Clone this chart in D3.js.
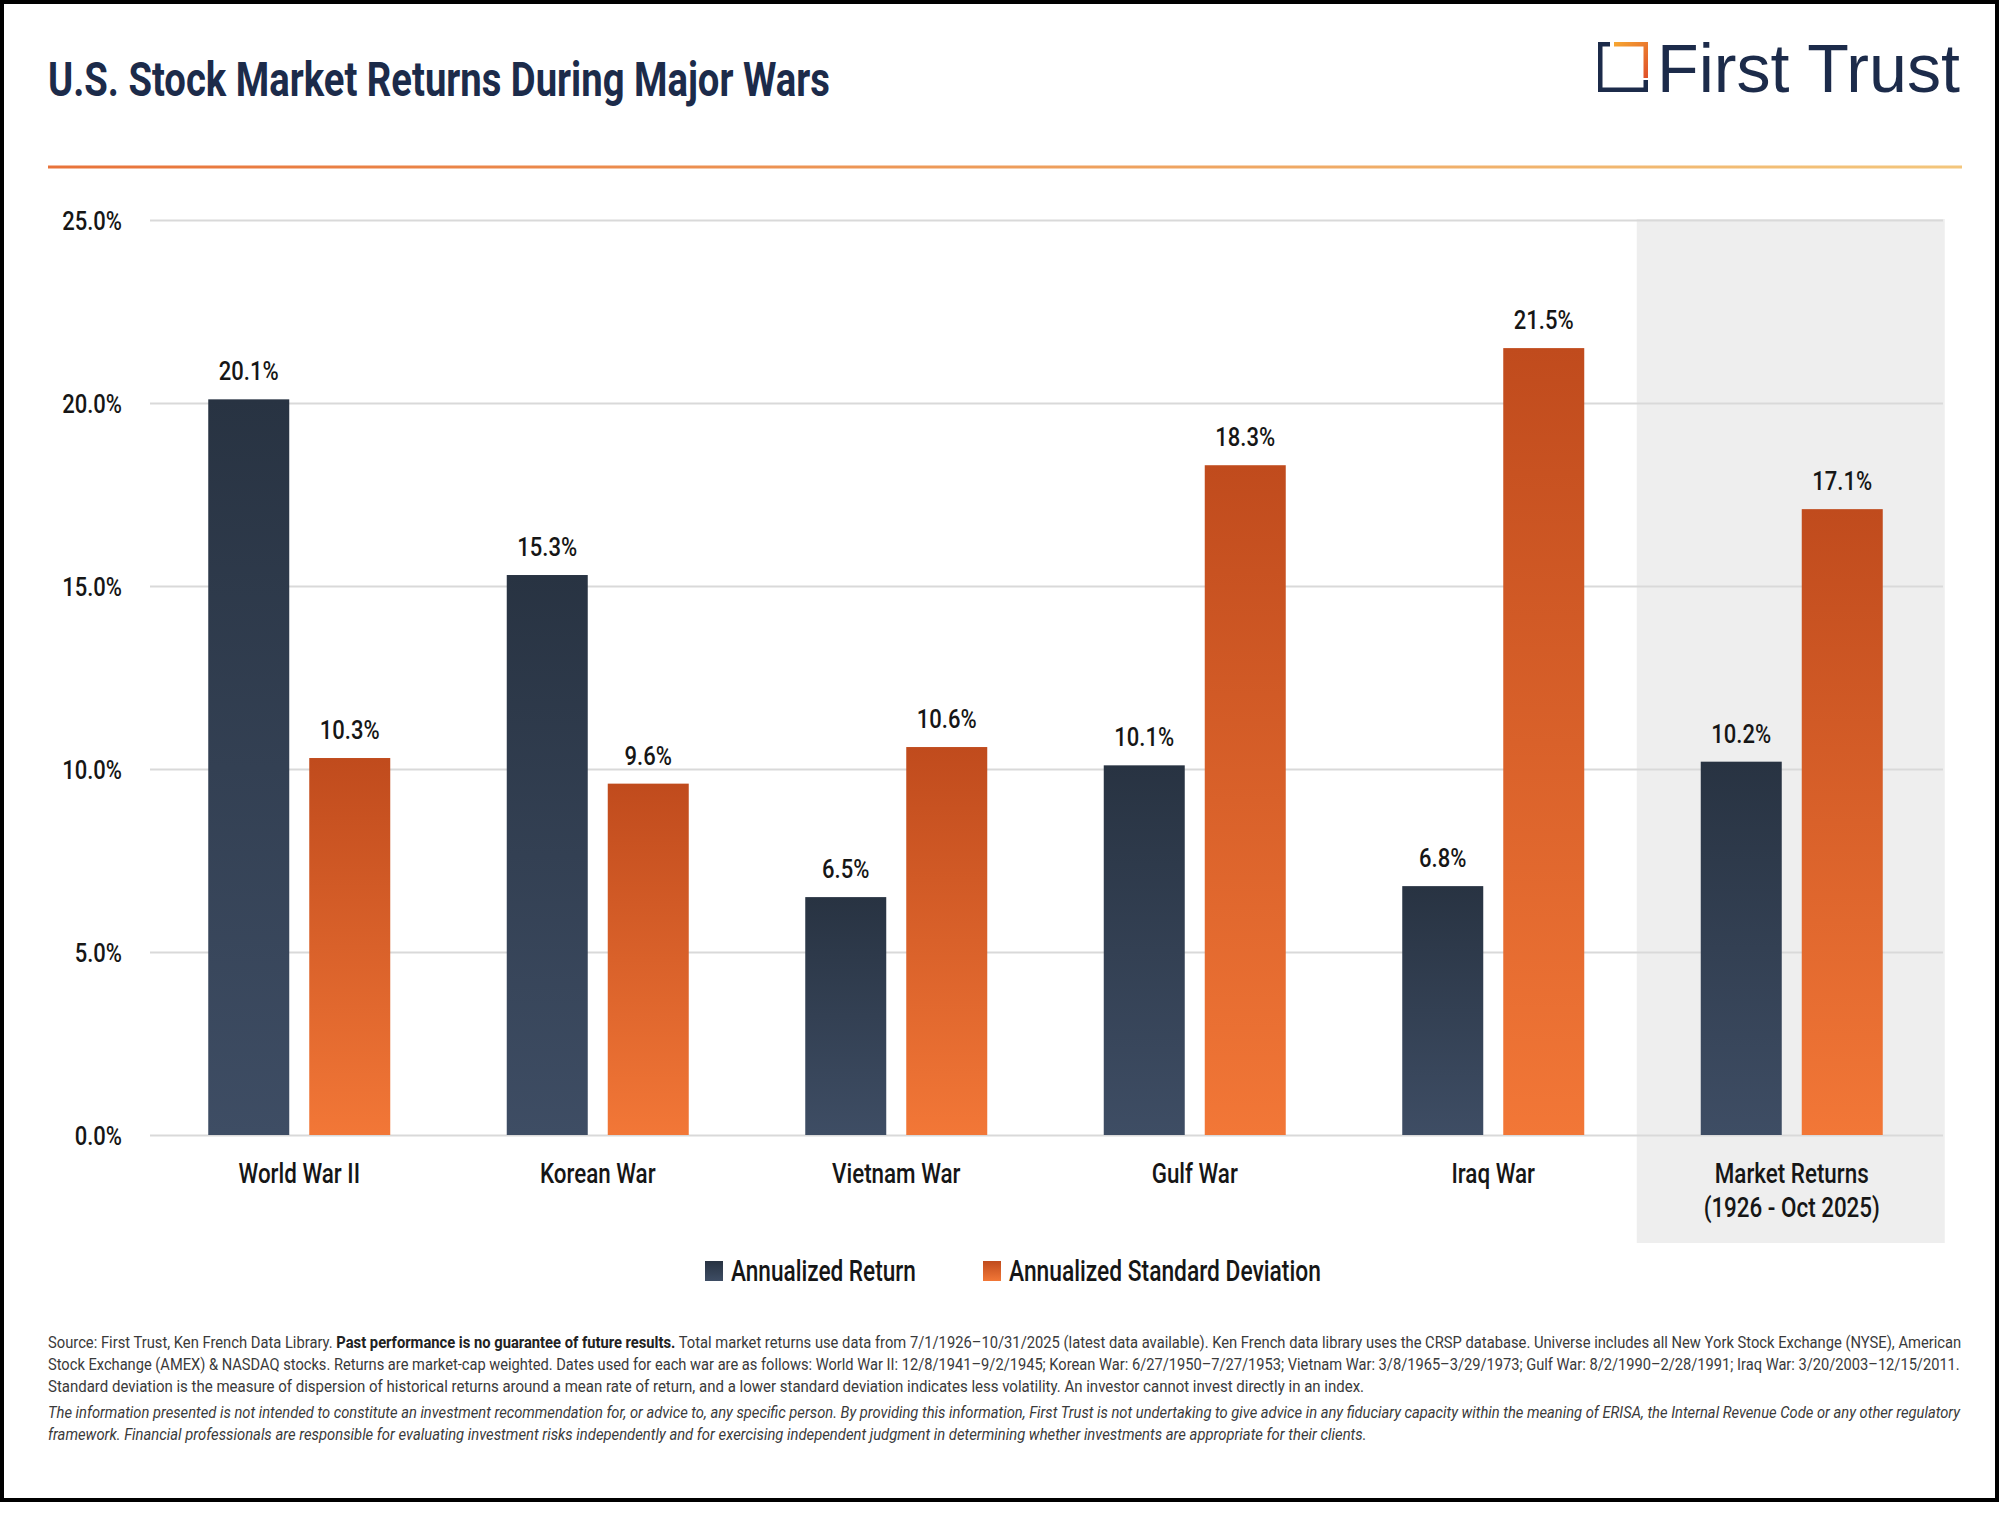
<!DOCTYPE html>
<html>
<head>
<meta charset="utf-8">
<script src="https://cdn.jsdelivr.net/npm/d3@7"></script>
<style>
  html, body { margin: 0; padding: 0; background: #ffffff; }
  svg { display: block; }
</style>
</head>
<body>
<div id="chart"></div>
<script>
// ---------------- DATA ----------------
const categories = ["World War II", "Korean War", "Vietnam War", "Gulf War", "Iraq War", "Market Returns|(1926 - Oct 2025)"];
const seriesNames = ["Annualized Return", "Annualized Standard Deviation"];
const annualizedReturn = [20.1, 15.3, 6.5, 10.1, 6.8, 10.2];
const annualizedStdDev = [10.3, 9.6, 10.6, 18.3, 21.5, 17.1];
const yTicks = [0, 5, 10, 15, 20, 25];
const titleText = "U.S. Stock Market Returns During Major Wars";
const logoText = "First Trust";
const footnoteLines = [
  [["Source: First Trust, Ken French Data Library. ", "normal"], ["Past performance is no guarantee of future results.", "bold"], [" Total market returns use data from 7/1/1926\u201310/31/2025 (latest data available). Ken French data library uses the CRSP database. Universe includes all New York Stock Exchange (NYSE), American", "normal"]],
  [["Stock Exchange (AMEX) & NASDAQ stocks. Returns are market-cap weighted. Dates used for each war are as follows: World War II: 12/8/1941\u20139/2/1945; Korean War: 6/27/1950\u20137/27/1953; Vietnam War: 3/8/1965\u20133/29/1973; Gulf War: 8/2/1990\u20132/28/1991; Iraq War: 3/20/2003\u201312/15/2011.", "normal"]],
  [["Standard deviation is the measure of dispersion of historical returns around a mean rate of return, and a lower standard deviation indicates less volatility. An investor cannot invest directly in an index.", "normal"]],
  [["The information presented is not intended to constitute an investment recommendation for, or advice to, any specific person. By providing this information, First Trust is not undertaking to give advice in any fiduciary capacity within the meaning of ERISA, the Internal Revenue Code or any other regulatory", "italic"]],
  [["framework. Financial professionals are responsible for evaluating investment risks independently and for exercising independent judgment in determining whether investments are appropriate for their clients.", "italic"]]
];

// ---------------- LAYOUT ----------------
const W = 2000, H = 1532;
const FONT = "Roboto, 'Noto Sans', sans-serif";
const NAVY = "#1c2b4a";
const INK = "#161616";
const plot = { left: 150, right: 1943, top: 220, bottom: 1135 };

const svg = d3.select("#chart").append("svg")
  .attr("width", W).attr("height", H)
  .attr("viewBox", `0 0 ${W} ${H}`)
  .style("font-family", FONT);

svg.append("rect").attr("x", 0).attr("y", 0).attr("width", W).attr("height", H).attr("fill", "#fff");

// horizontal condensing helpers (the reference uses a condensed face)
function condense(node, x, y, f) {
  d3.select(node).attr("x", 0).attr("y", 0)
    .attr("transform", `translate(${x},${y}) scale(${f},1)`);
}
function fitWidth(node, x, y, w) {
  const nat = node.getComputedTextLength();
  condense(node, x, y, w / nat);
}

const defs = svg.append("defs");
const gDark = defs.append("linearGradient").attr("id", "gradDark").attr("x1", 0).attr("y1", 0).attr("x2", 0).attr("y2", 1);
gDark.append("stop").attr("offset", "0%").attr("stop-color", "#283342");
gDark.append("stop").attr("offset", "100%").attr("stop-color", "#3e4d64");
const gOr = defs.append("linearGradient").attr("id", "gradOrange").attr("x1", 0).attr("y1", 0).attr("x2", 0).attr("y2", 1);
gOr.append("stop").attr("offset", "0%").attr("stop-color", "#c04b1d");
gOr.append("stop").attr("offset", "100%").attr("stop-color", "#f27737");
const gLine = defs.append("linearGradient").attr("id", "gradLine").attr("x1", 0).attr("y1", 0).attr("x2", 1).attr("y2", 0);
gLine.append("stop").attr("offset", "0%").attr("stop-color", "#e8733a");
gLine.append("stop").attr("offset", "100%").attr("stop-color", "#f3c67c");
const gLogo = defs.append("linearGradient").attr("id", "gradLogo").attr("x1", 0).attr("y1", 0).attr("x2", 1).attr("y2", 1);
gLogo.append("stop").attr("offset", "0%").attr("stop-color", "#f6a531");
gLogo.append("stop").attr("offset", "100%").attr("stop-color", "#e0522a");

// Title
const title = svg.append("text")
  .attr("font-size", 49).attr("font-weight", 700)
  .attr("fill", NAVY)
  .text(titleText);
fitWidth(title.node(), 48, 96, 782);

// Logo
const logo = svg.append("g").attr("transform", "translate(1598,42)");
const sw = 4.5;
logo.append("path").attr("d", `M 12 ${sw/2} L ${sw/2} ${sw/2} L ${sw/2} ${50 - sw/2} L ${50 - sw/2} ${50 - sw/2} L ${50 - sw/2} 38`)
  .attr("fill", "none").attr("stroke", NAVY).attr("stroke-width", sw);
logo.append("path").attr("d", `M 16 ${sw/2} L ${50 - sw/2} ${sw/2} L ${50 - sw/2} 36`)
  .attr("fill", "none").attr("stroke", "url(#gradLogo)").attr("stroke-width", sw);
const logoT = svg.append("text")
  .attr("font-family", "'Liberation Sans', Arial, sans-serif")
  .attr("font-size", 69).attr("fill", NAVY)
  .text(logoText);
fitWidth(logoT.node(), 1657, 92, 303);

// Orange rule
svg.append("rect").attr("x", 48).attr("y", 165.5).attr("width", 1914).attr("height", 3).attr("fill", "url(#gradLine)");

// Scales
const x0 = d3.scaleBand().domain(categories).range([150, 1941]).paddingInner(0).paddingOuter(0);
const x1 = d3.scaleBand().domain(seriesNames).range([0, 182]).paddingInner(20 / 101).paddingOuter(0);
const y = d3.scaleLinear().domain([0, 25]).range([plot.bottom, plot.top]);

// Highlight panel for last category
const lastCat = categories[categories.length - 1];
svg.append("rect")
  .attr("x", x0(lastCat) + x0.bandwidth() / 2 - 155)
  .attr("y", y(25) - 1)
  .attr("width", 308).attr("height", 1243 - y(25) + 1)
  .attr("fill", "#eeeeee");

// Gridlines + axis
const yAxis = d3.axisLeft(y).tickValues(yTicks)
  .tickFormat(d => d.toFixed(1) + "%")
  .tickSize(-(plot.right - plot.left)).tickPadding(28);
const gy = svg.append("g").attr("transform", `translate(${plot.left},0)`).call(yAxis);
gy.select(".domain").remove();
gy.selectAll(".tick line").attr("stroke", "#d9d9d9").attr("stroke-width", 2);
gy.selectAll(".tick text")
  .attr("font-family", FONT).attr("font-size", 25).attr("font-weight", 500).attr("fill", INK)
  .attr("dy", null)
  .each(function () { condense(this, -28, 9, 0.88); });

// Bars
const rows = categories.map((c, i) => ({ cat: c, vals: [
  { s: seriesNames[0], v: annualizedReturn[i] },
  { s: seriesNames[1], v: annualizedStdDev[i] }
]}));
const grads = { [seriesNames[0]]: "url(#gradDark)", [seriesNames[1]]: "url(#gradOrange)" };
const groups = svg.append("g").selectAll("g").data(rows).join("g")
  .attr("transform", d => `translate(${x0(d.cat) + x0.bandwidth() / 2 - 91},0)`);
groups.selectAll("rect").data(d => d.vals).join("rect")
  .attr("x", d => x1(d.s)).attr("width", x1.bandwidth())
  .attr("y", d => y(d.v)).attr("height", d => y(0) - y(d.v))
  .attr("fill", d => grads[d.s]);
groups.selectAll("text").data(d => d.vals).join("text")
  .attr("text-anchor", "middle")
  .attr("font-size", 25).attr("font-weight", 500).attr("fill", INK)
  .text(d => d.v.toFixed(1) + "%")
  .each(function (d) { condense(this, x1(d.s) + x1.bandwidth() / 2, y(d.v) - 19, 0.88); });

// Category labels
const catG = svg.append("g").selectAll("g").data(categories).join("g");
catG.selectAll("text").data(d => d.split("|").map((line, i) => ({ cat: d, line, i }))).join("text")
  .attr("text-anchor", "middle")
  .attr("font-size", 28).attr("font-weight", 500).attr("fill", INK)
  .text(d => d.line)
  .each(function (d) { condense(this, x0(d.cat) + x0.bandwidth() / 2, 1183 + d.i * 34, 0.8); });

// Legend
const legendItems = [
  { name: seriesNames[0], fill: "url(#gradDark)", x: 705, w: 185 },
  { name: seriesNames[1], fill: "url(#gradOrange)", x: 983, w: 312 }
];
const lg = svg.append("g").selectAll("g").data(legendItems).join("g");
lg.append("rect").attr("x", d => d.x).attr("y", 1261).attr("width", 18).attr("height", 20).attr("fill", d => d.fill);
lg.append("text")
  .attr("font-size", 30).attr("font-weight", 500).attr("fill", INK)
  .text(d => d.name)
  .each(function (d) { fitWidth(this, d.x + 26, 1281, d.w); });

// Footnotes
const fnBase = [1348, 1370, 1392, 1418, 1440];
const fnLen = [1914, 1914, 1318, 1914, 1319];
footnoteLines.forEach((parts, i) => {
  const t = svg.append("text")
    .attr("font-size", 17).attr("fill", "#3a3a3a");
  parts.forEach(p => {
    t.append("tspan")
      .attr("font-weight", p[1] === "bold" ? 700 : 400)
      .attr("font-style", p[1] === "italic" ? "italic" : "normal")
      .attr("fill", p[1] === "bold" ? "#222" : null)
      .text(p[0]);
  });
  fitWidth(t.node(), 48, fnBase[i], fnLen[i]);
});

// Frame
svg.append("rect").attr("x", 2).attr("y", 2).attr("width", 1995).attr("height", 1498)
  .attr("fill", "none").attr("stroke", "#000").attr("stroke-width", 4);
</script>
</body>
</html>
